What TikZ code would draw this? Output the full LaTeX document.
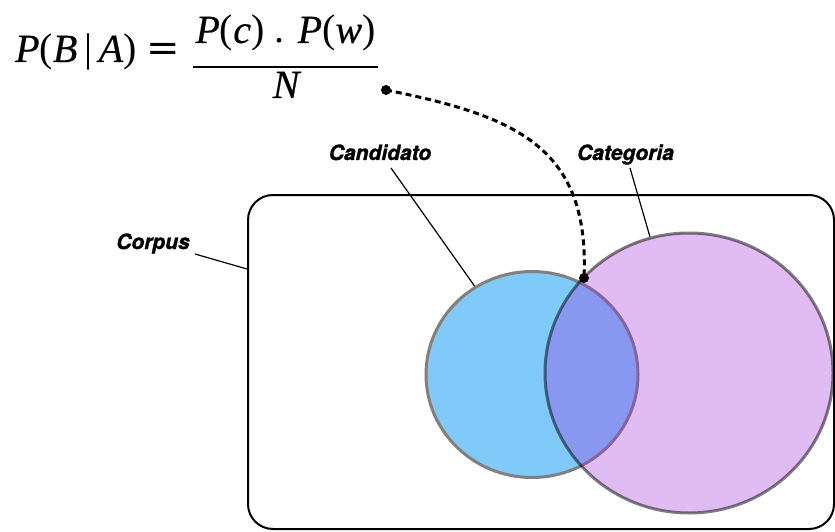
\documentclass[tikz,border=0pt]{standalone}
\usepackage{fontspec}
\setmainfont{Liberation Serif}[ItalicFeatures={FakeBold=0.4}]
\newfontfamily\lblfont{TeX Gyre Heros}[BoldItalicFeatures={FakeBold=1.2}]
\newfontfamily\eqsignfont{DejaVu Serif}
\usetikzlibrary{shapes.geometric}
\definecolor{candfill}{RGB}{128,202,250}
\definecolor{catfill}{RGB}{155,39,216}
\definecolor{ringgray}{RGB}{128,128,128}
\begin{document}
\begin{tikzpicture}[x=1pt,y=-1pt,
  lbl/.style={font=\lblfont\bfseries\itshape\fontsize{21}{24}\selectfont, inner sep=0pt, anchor=base},
  eq/.style={font=\fontsize{40}{46}\selectfont, inner sep=0pt, anchor=base},
  leader/.style={draw=black, line width=1.2pt},
  dotm/.style={circle, fill=black, inner sep=0pt, minimum size=10pt},
  link/.style={draw=black, line width=3pt, dash pattern=on 6pt off 4pt}]
\useasboundingbox (0,0) rectangle (835,532);

% formula
\node[eq, anchor=base west] (lhs) at (15,62) {\textit{P}(\textit{B}\,|\,\textit{A})};
\node[eq, font=\eqsignfont\fontsize{40}{46}\selectfont] (eqsign) at (163.5,62) {=};
\node[eq] (num) at (285.5,43) {\textit{P}(\textit{c}) . \textit{P}(\textit{w})};
\node[eq] (den) at (287,98) {\textit{N}};
\coordinate (barL) at (193,67);
\coordinate (barR) at (378,67);
\draw[line width=2pt] (barL) -- (barR);

% corpus frame
\node[draw=black, line width=2pt, rounded corners=25pt, minimum width=586pt, minimum height=334pt, inner sep=0pt] (corpus) at (541,362) {};

% circles
\node[ellipse, draw=ringgray, fill=candfill, line width=3pt, minimum width=212pt, minimum height=206pt, inner sep=0pt] (cand) at (532,374.5) {};
\node[ellipse, draw=black, draw opacity=0.5, fill=catfill, fill opacity=0.31, line width=3pt, minimum width=288pt, minimum height=280pt, inner sep=0pt] (cat) at (689,373) {};

% labels
\node[lbl] (corpuslbl) at (153,249) {Corpus};
\node[lbl] (candlbl) at (380,160) {Candidato};
\node[lbl] (catlbl) at (625.5,160) {Categoria};

\coordinate (corpusTail) at (195,254);
\coordinate (corpusHead) at (247,269);
\coordinate (candTail) at (391,168);
\coordinate (catTail) at (630,168);
\draw[leader] (corpusTail) -- (corpusHead);
\draw[leader] (candTail) -- (cand.123);
\draw[leader] (catTail) -- (cat.106);

% dashed link
\node[dotm] (start) at (386,90) {};
\node[dotm] (hit) at (584,278) {};
\draw[link] (start.center) .. controls (516,116) and (590,147) .. (hit.center);
\end{tikzpicture}
\end{document}
